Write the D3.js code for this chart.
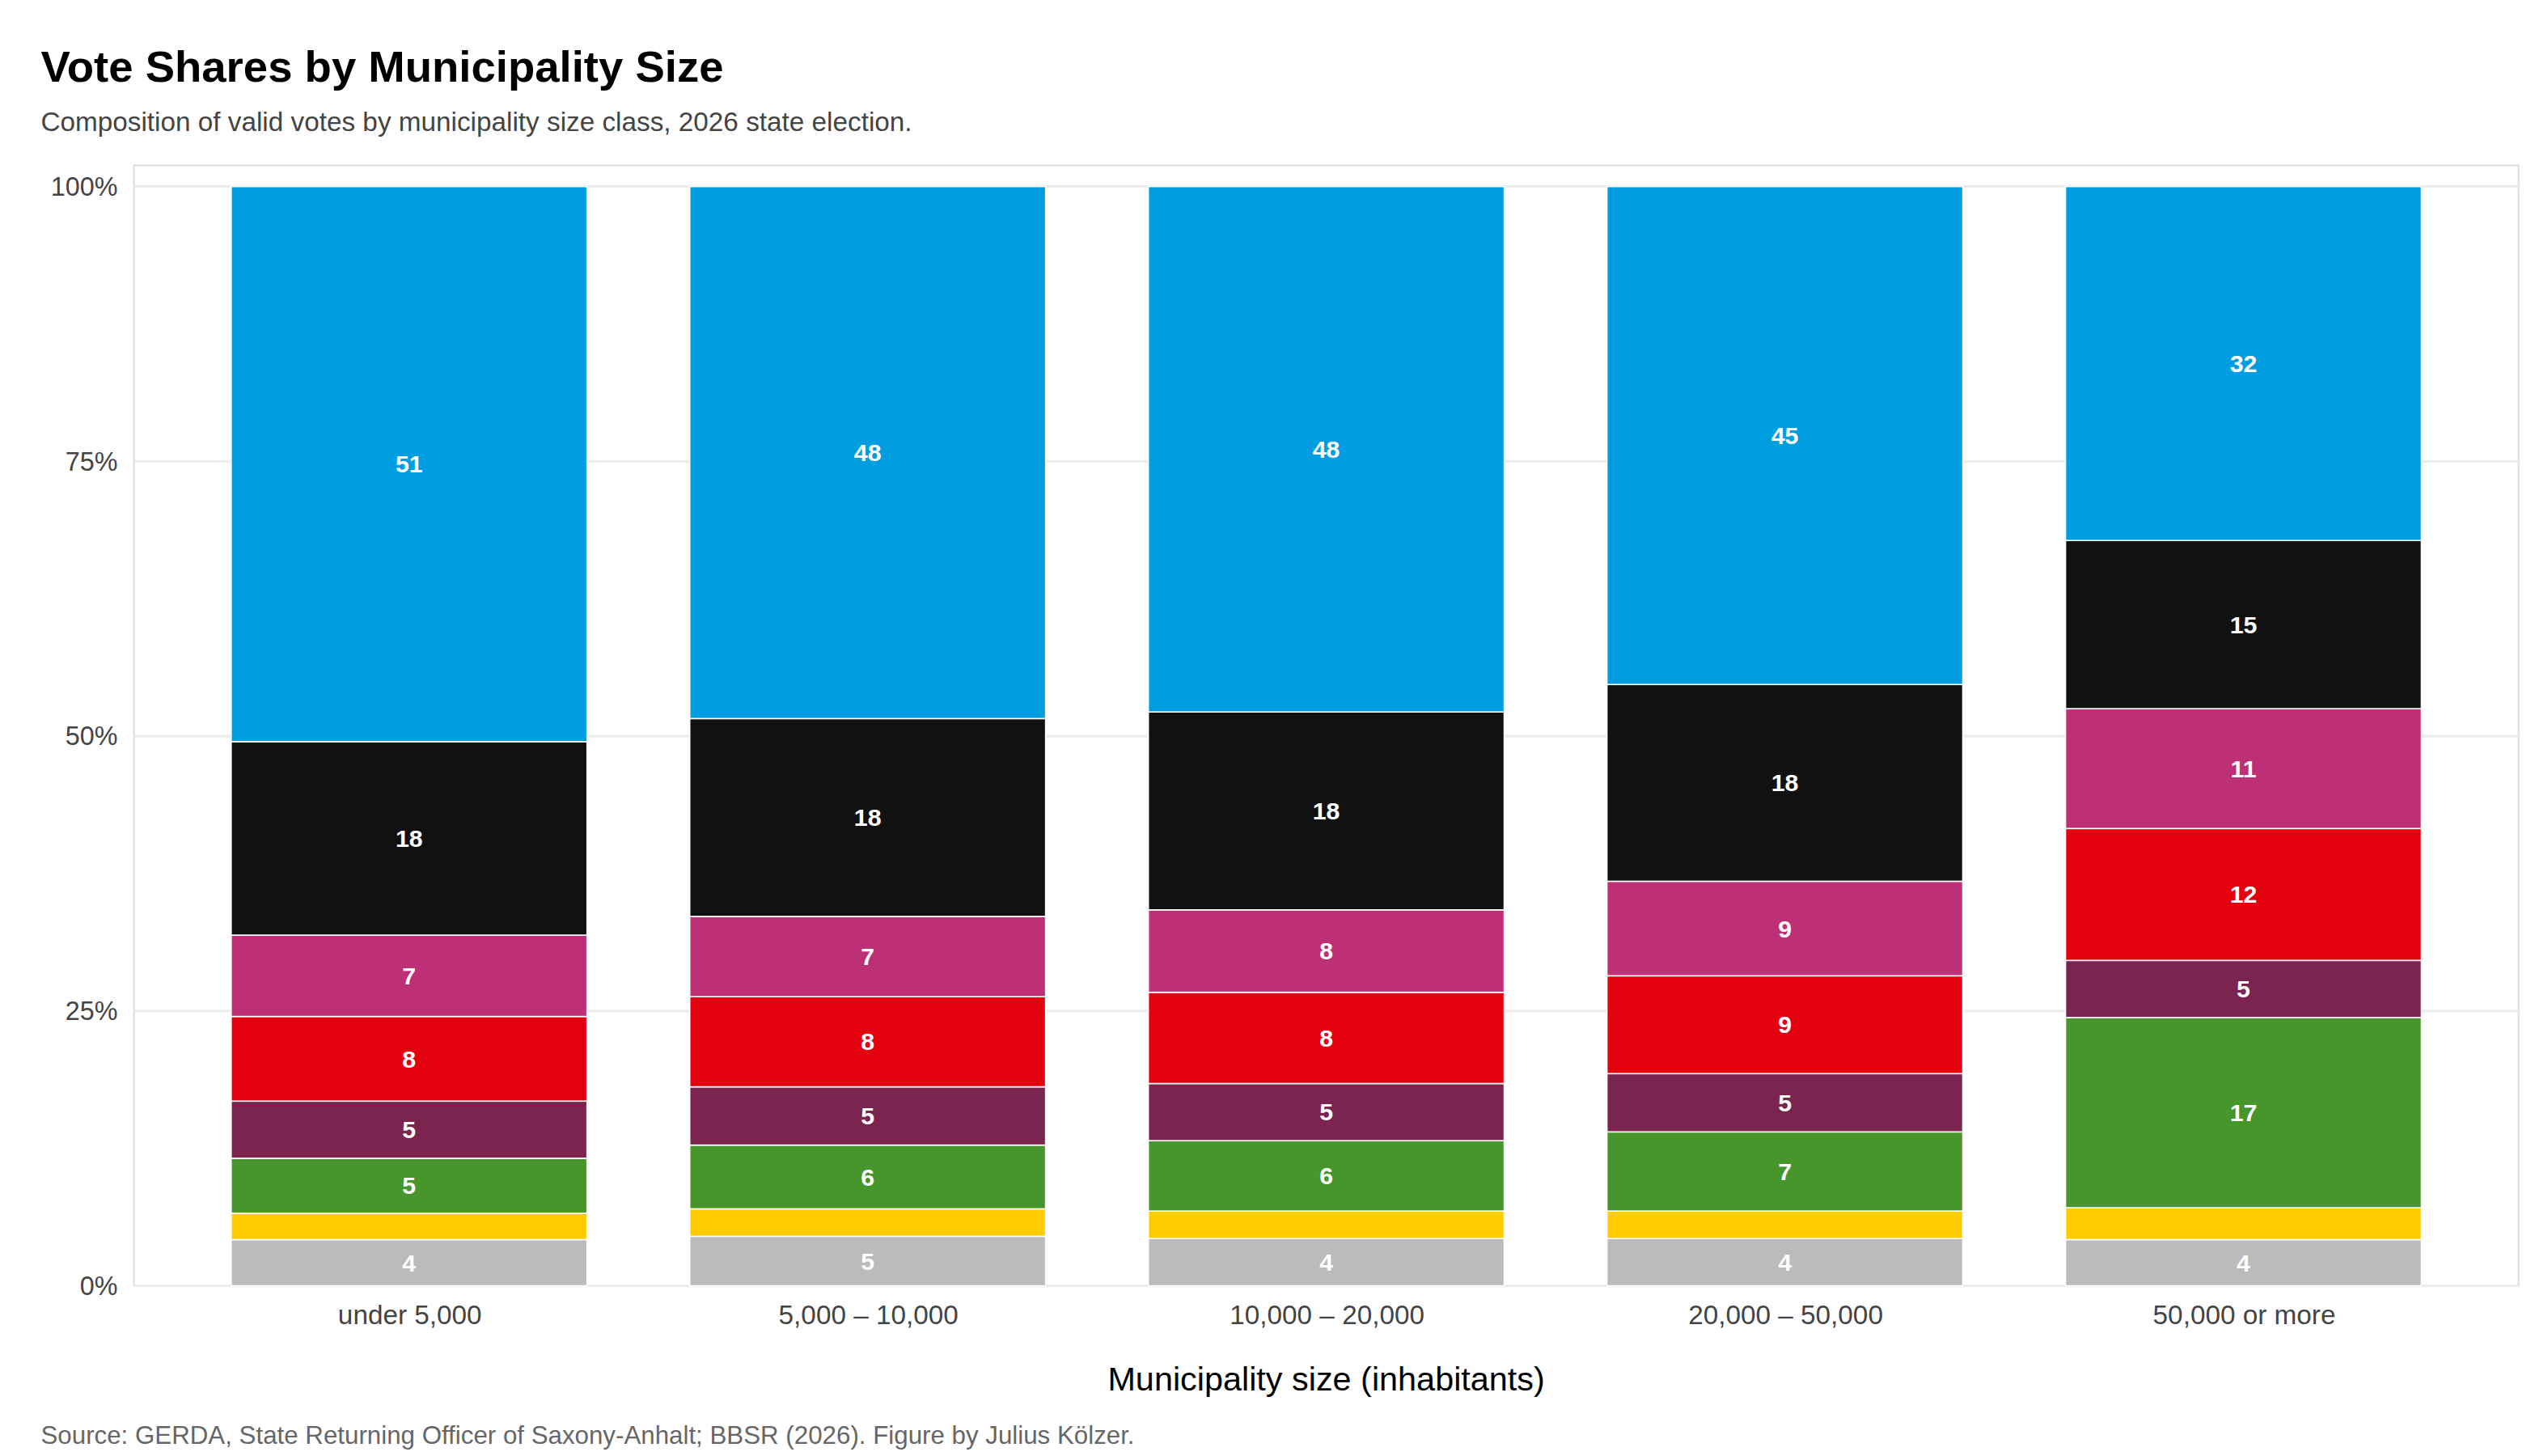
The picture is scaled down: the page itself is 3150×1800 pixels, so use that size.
<!DOCTYPE html>
<html>
<head>
<meta charset="utf-8">
<script src="https://cdn.jsdelivr.net/npm/d3@7"></script>
<style>
  body { margin: 0; background: #fff; }
  text { font-family: "Liberation Sans", Arial, sans-serif; }
</style>
</head>
<body>
<svg id="chart" width="3150" height="1800" viewBox="0 0 1560 891"></svg>
<script>
const sizeClasses = ["under 5,000", "5,000 – 10,000", "10,000 – 20,000", "20,000 – 50,000", "50,000 or more"];
// stacked bottom to top
const parties = ["Other", "FDP", "Greens", "Left", "SPD", "BSW", "CDU", "AfD"];
const partyColors = ["#bbbbbb", "#ffcc00", "#46962b", "#7b2450", "#e3000f", "#be3075", "#111111", "#009ee0"];
const shareOther  = [4.2, 4.5, 4.3, 4.3, 4.2];
const shareFDP    = [2.4, 2.5, 2.5, 2.5, 2.9];
const shareGreens = [5.0, 5.8, 6.4, 7.2, 17.3];
const shareLeft   = [5.2, 5.3, 5.2, 5.3, 5.2];
const shareSPD    = [7.7, 8.2, 8.3, 8.9, 12.0];
const shareBSW    = [7.4, 7.3, 7.5, 8.6, 10.9];
const shareCDU    = [17.6, 18.0, 18.0, 17.9, 15.3];
const shareAfD    = [50.5, 48.4, 47.8, 45.3, 32.2];
const yTicks = [0, 25, 50, 75, 100];

const seriesValues = [shareOther, shareFDP, shareGreens, shareLeft, shareSPD, shareBSW, shareCDU, shareAfD];
const rows = sizeClasses.map((c, i) => {
  const r = { cls: c };
  parties.forEach((p, k) => r[p] = seriesValues[k][i]);
  return r;
});
const stacked = d3.stack().keys(parties)(rows);

const svg = d3.select("#chart");
const panel = { left: 82, right: 1542, top: 101, bottom: 787 };

// title block
svg.append("text").attr("x", 25).attr("y", 50).attr("font-size", 27).attr("font-weight", "bold")
  .attr("fill", "#000").text("Vote Shares by Municipality Size");
svg.append("text").attr("x", 25).attr("y", 80).attr("font-size", 16.5).attr("fill", "#444")
  .text("Composition of valid votes by municipality size class, 2026 state election.");

svg.append("rect").attr("x", panel.left).attr("y", panel.top)
  .attr("width", panel.right - panel.left).attr("height", panel.bottom - panel.top)
  .attr("fill", "none").attr("stroke", "#dddddd");

const step = (panel.right - panel.left) / (sizeClasses.length - 1 + 1.2);
const bw = step * 0.776;
const x = d3.scalePoint().domain(sizeClasses)
  .range([panel.left + 0.6 * step, panel.right - 0.6 * step]);
const y = d3.scaleLinear().domain([0, 100]).range([panel.bottom, 114]);

// gridlines
svg.append("g").selectAll("line").data(yTicks).join("line")
  .attr("x1", panel.left).attr("x2", panel.right)
  .attr("y1", d => y(d)).attr("y2", d => y(d))
  .attr("stroke", "#ebebeb").attr("stroke-width", 1.6);

// y axis
const yAxis = svg.append("g").attr("transform", `translate(${panel.left},0)`)
  .call(d3.axisLeft(y).tickValues(yTicks).tickFormat(d => d + "%").tickSize(0).tickPadding(10));
yAxis.select(".domain").remove();
yAxis.selectAll("text").attr("font-size", 16).attr("fill", "#444");

// x axis
const xAxis = svg.append("g").attr("transform", `translate(0,${panel.bottom})`)
  .call(d3.axisBottom(x).tickSize(0).tickPadding(12));
xAxis.select(".domain").remove();
xAxis.selectAll("text").attr("font-size", 16.5).attr("fill", "#444");

svg.append("text").attr("x", (panel.left + panel.right) / 2).attr("y", 851)
  .attr("text-anchor", "middle").attr("font-size", 20.5).attr("fill", "#000")
  .text("Municipality size (inhabitants)");

// bars
const layers = svg.append("g").selectAll("g").data(stacked).join("g")
  .attr("fill", (d, k) => partyColors[k]);
layers.selectAll("rect").data(d => d).join("rect")
  .attr("x", d => x(d.data.cls) - bw / 2).attr("width", bw)
  .attr("y", d => y(d[1])).attr("height", d => y(d[0]) - y(d[1]))
  .attr("stroke", "#fff").attr("stroke-width", 0.8);

// labels
layers.selectAll("text").data(d => d.filter(s => s[1] - s[0] >= 3.5)).join("text")
  .attr("x", d => x(d.data.cls)).attr("y", d => y((d[0] + d[1]) / 2))
  .attr("dy", "0.35em").attr("text-anchor", "middle")
  .attr("font-size", 15).attr("font-weight", "bold").attr("fill", "#fff")
  .text(d => Math.round(d[1] - d[0]));

svg.append("text").attr("x", 25).attr("y", 884).attr("font-size", 15.5).attr("fill", "#666")
  .text("Source: GERDA, State Returning Officer of Saxony-Anhalt; BBSR (2026). Figure by Julius Kölzer.");
</script>
</body>
</html>
